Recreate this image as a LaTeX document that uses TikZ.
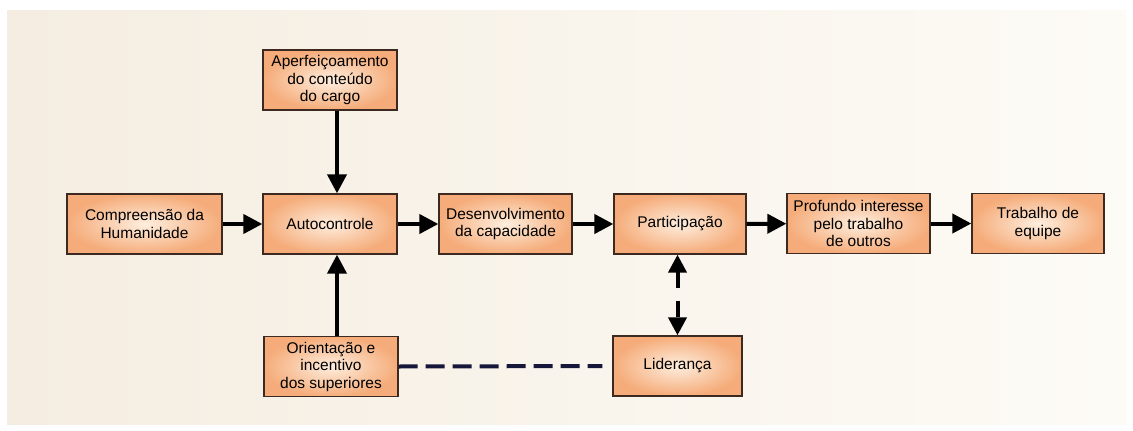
\documentclass[tikz,border=0pt]{standalone}
\usepackage{fontspec}
\setmainfont{Liberation Sans}
\usetikzlibrary{arrows.meta,calc}

\definecolor{panelL}{RGB}{245,237,225}
\definecolor{panelR}{RGB}{253,251,246}
\definecolor{boxIn}{RGB}{254,238,222}
\definecolor{boxOut}{RGB}{245,172,122}
\definecolor{boxLine}{RGB}{60,42,32}
\definecolor{linkDash}{RGB}{22,22,58}

\tikzset{
  stage/.style={draw=boxLine, line width=1.3pt, inner color=boxIn, outer color=boxOut,
    minimum height=60pt, inner sep=2pt, align=center,
    font=\fontsize{15.5}{17.5}\selectfont},
  flow/.style={line width=4pt, -{Triangle[length=19pt,width=19pt]}},
  twoway/.style={line width=4pt, {Triangle[length=18pt,width=18pt]}-{Triangle[length=18pt,width=18pt]},
    dash pattern=on 16pt off 13pt},
  tie/.style={line width=4pt, draw=linkDash, dash pattern=on 19pt off 8pt}
}

\begin{document}
\begin{tikzpicture}[x=1pt,y=-1pt]
  \useasboundingbox (0,0) rectangle (1133,431);
  \fill[white] (0,0) rectangle (1133,431);
  \shade[left color=panelL, right color=panelR] (7,10) rectangle (1126,424);

  % boxes
  \node[stage, minimum width=134pt] (apf) at (330,80) {Aperfeiçoamento\\do conteúdo\\do cargo};
  \node[stage, minimum width=155pt] (comp) at (144.5,224) {Compreensão da\\Humanidade};
  \node[stage, minimum width=134pt] (auto) at (330,224) {Autocontrole};
  \node[stage, minimum width=133pt] (desen) at (505.5,224) {Desenvolvimento\\da capacidade};
  \node[stage, minimum width=132pt] (part) at (680,224) {Participação};
  \node[stage, minimum width=143pt] (prof) at (858.5,223.5) {Profundo interesse\\pelo trabalho\\de outros};
  \node[stage, minimum width=132pt] (trab) at (1038,223.5) {Trabalho de\\equipe};
  \node[stage, minimum width=134pt] (orient) at (331,366.5) {Orientação e\\incentivo\\dos superiores};
  \node[stage, minimum width=129pt] (lider) at (677.5,366) {Liderança};

  % main chain
  \draw[flow] (comp) -- (auto);
  \draw[flow] (auto) -- (desen);
  \draw[flow] (desen) -- (part);
  \draw[flow] (part) -- (prof);
  \draw[flow] (prof) -- (trab);

  % inputs into Autocontrole
  \draw[flow] ([xshift=7pt]apf.south) -- ([xshift=7pt]auto.north);
  \draw[flow] ([xshift=6pt]orient.north) -- ([xshift=7pt]auto.south);

  % Participação <-> Liderança
  \draw[twoway] (lider.north |- part.south) -- (lider.north);

  % Orientação --- Liderança
  \draw[tie, shorten >=10pt] (orient.east) -- (lider.west);
\end{tikzpicture}
\end{document}
